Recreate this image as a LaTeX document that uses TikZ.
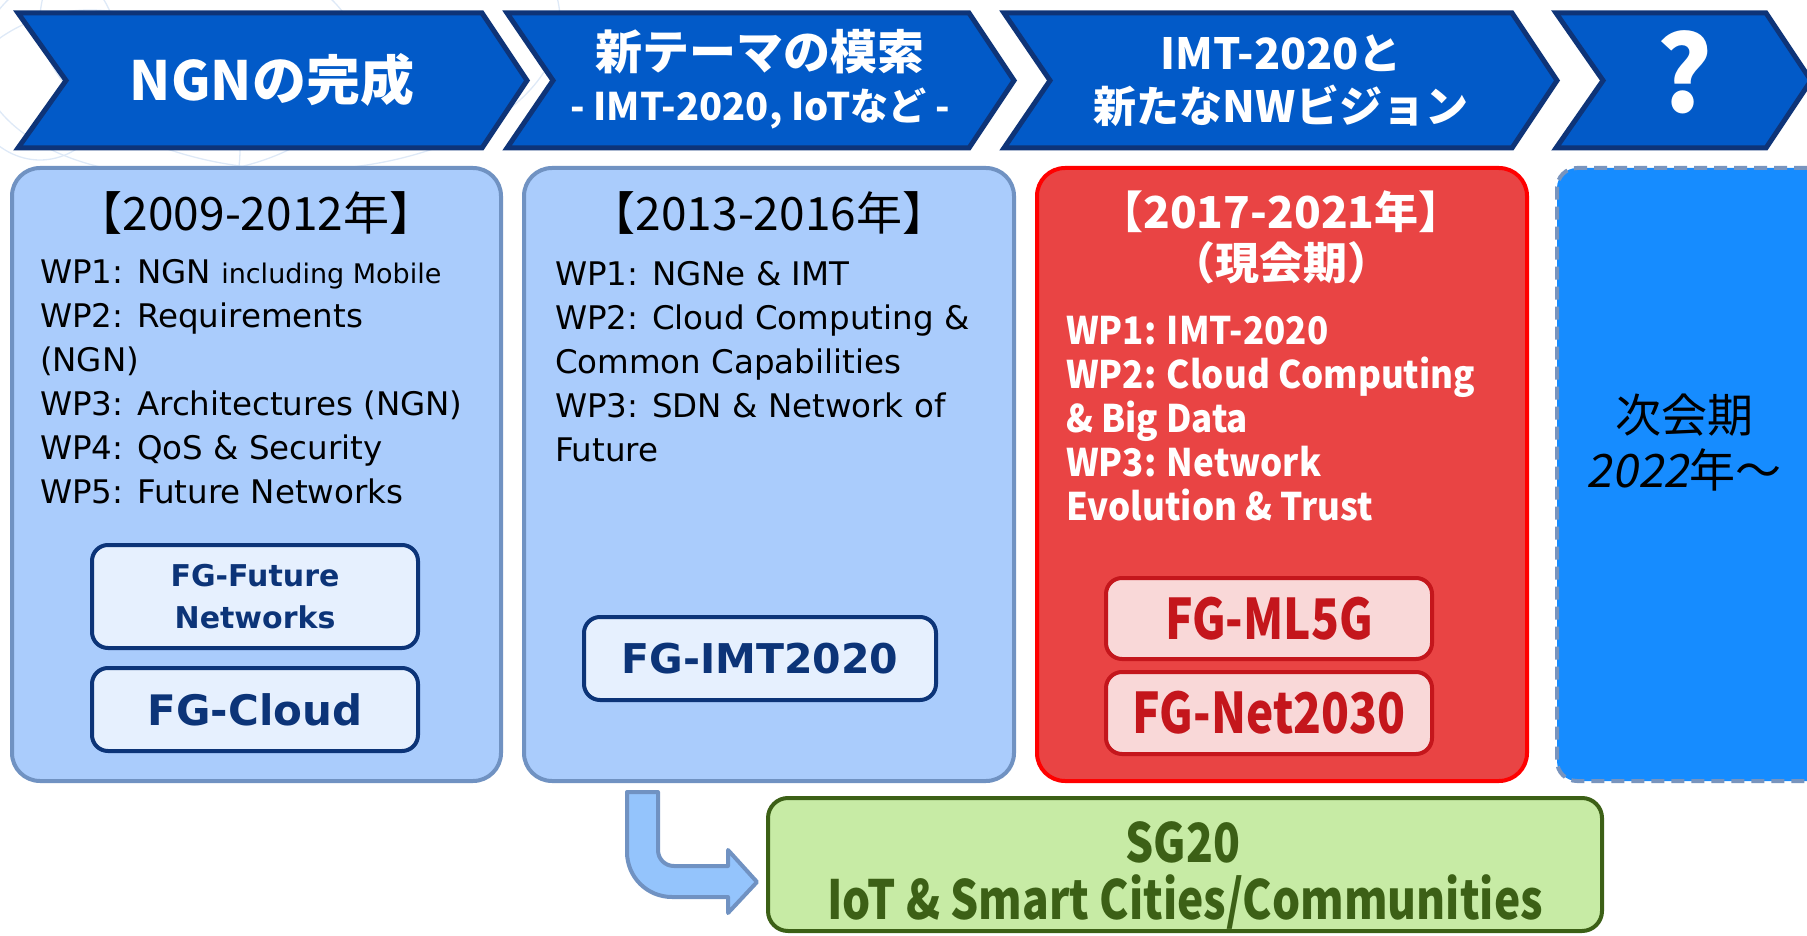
\documentclass[tikz,border=0pt]{standalone}
\usepackage{fontspec}
\setmainfont{DejaVu Sans}
\newfontfamily\jp{Noto Sans CJK JP}
\newfontfamily\jpc[FakeStretch=0.92]{Noto Sans CJK JP}
\newfontfamily\jpcc[FakeStretch=0.82]{Noto Sans CJK JP}
\newfontfamily\jpsl[FakeSlant=0.18]{Noto Sans CJK JP}
\newfontfamily\dv{DejaVu Sans}
\newcommand\fsz[1]{\fontsize{#1}{#1}\selectfont}
\definecolor{chevfill}{RGB}{2,90,200}
\definecolor{chevline}{RGB}{14,52,120}
\definecolor{perfill}{RGB}{170,204,252}
\definecolor{perline}{RGB}{112,146,194}
\definecolor{fgfill}{RGB}{230,240,254}
\definecolor{fgline}{RGB}{12,52,120}
\definecolor{redfill}{RGB}{233,68,68}
\definecolor{redline}{RGB}{255,0,0}
\definecolor{pinkfill}{RGB}{249,216,216}
\definecolor{pinkline}{RGB}{196,22,28}
\definecolor{nextfill}{RGB}{22,140,255}
\definecolor{nextline}{RGB}{120,148,190}
\definecolor{sgfill}{RGB}{199,235,165}
\definecolor{sgline}{RGB}{60,96,22}
\definecolor{arrowfill}{RGB}{148,196,252}
\definecolor{bgarc}{RGB}{222,233,247}
\begin{document}
\begin{tikzpicture}[x=1pt,y=-1pt,
  every node/.style={inner sep=0pt, outer sep=0pt},
  chev/.style={fill=chevfill, draw=chevline, line width=5pt, line join=miter},
  chevtext/.style={anchor=base, text=white, font=\jp\bfseries\fsz{#1}},
  period/.style={rectangle, rounded corners=28pt, line width=4pt, fill=perfill, draw=perline},
  yearlbl/.style={anchor=base, font=\jp\fsz{46}},
  wpline/.style={anchor=base west, font=\dv\fsz{32.5}},
  wpred/.style={anchor=base west, text=white, font=\jpc\bfseries\fsz{38}},
  fgblue/.style={rectangle, rounded corners=16pt, line width=4pt, fill=fgfill, draw=fgline, text=fgline, align=center},
  fgred/.style={rectangle, rounded corners=16pt, line width=4pt, fill=pinkfill, draw=pinkline, text=pinkline, font=\jpcc\bfseries\fsz{56}},
  sgtext/.style={anchor=base, text=sgline, font=\jpcc\bfseries\fsz{54}},
  bgline/.style={draw=bgarc, line width=1.3pt}
]
\useasboundingbox (0,0) rectangle (1807,936);

% faint background arcs
\begin{scope}
  \clip (0,0) rectangle (620,190);
  \draw[bgline] (170,60) ellipse[x radius=190, y radius=115];
  \draw[bgline] (90,150) ellipse[x radius=150, y radius=140];
  \draw[bgline] (300,20) ellipse[x radius=260, y radius=150];
  \draw[bgline] (40,60) ellipse[x radius=80, y radius=100];
\end{scope}

% chevrons
\draw[chev] (18,13) -- (482,13) -- (527,80.5) -- (482,148) -- (18,148) -- (66,80.5) -- cycle;
\draw[chev] (507,13) -- (969,13) -- (1014,80.5) -- (969,148) -- (507,148) -- (553,80.5) -- cycle;
\draw[chev] (1004,13) -- (1512,13) -- (1557,80.5) -- (1512,148) -- (1004,148) -- (1050,80.5) -- cycle;
\draw[chev] (1556,13) -- (1766,13) -- (1811,80.5) -- (1766,148) -- (1556,148) -- (1603,80.5) -- cycle;

\node[chevtext=54] (c1) at (272,101) {NGNの完成};
\node[chevtext=47] (c2a) at (760,70) {新テーマの模索};
\node[chevtext=38] (c2b) at (760,121) {- IMT-2020, IoTなど -};
\node[chevtext=43] (c3a) at (1281,70) {IMT-2020と};
\node[chevtext=43] (c3b) at (1281,123) {新たなNWビジョン};
\node[chevtext=105] (c4) at (1685,113) {?};

% period boxes
\node[period, minimum width=489pt, minimum height=613pt] (p1) at (256.5,474.5) {};
\node[period, minimum width=490pt, minimum height=613pt] (p2) at (769,474.5) {};
\node[rectangle, rounded corners=28pt, line width=4pt, fill=redfill, draw=redline,
      minimum width=490pt, minimum height=613pt] (p3) at (1282,474.5) {};
\node[rectangle, rounded corners=20pt, line width=4pt, fill=nextfill, draw=nextline,
      dash pattern=on 13pt off 7pt, minimum width=290pt, minimum height=613pt] (p4) at (1702,474.5) {};

% box 1 text
\node[yearlbl] (y1) at (256,230) {【2009-2012年】};
\node[wpline] (a1) at (40,283) {WP1: NGN {\fsz{27}including Mobile}};
\node[wpline] (a2) at (40,327) {WP2: Requirements};
\node[wpline] (a3) at (40,371) {(NGN)};
\node[wpline] (a4) at (40,415) {WP3: Architectures (NGN)};
\node[wpline] (a5) at (40,459) {WP4: QoS \& Security};
\node[wpline] (a6) at (40,503) {WP5: Future Networks};
\node[fgblue, minimum width=326pt, minimum height=103pt, font=\dv\bfseries\fsz{30}] (fgf) at (255,596.5)
  {FG-Future\\[12pt]Networks};
\node[fgblue, minimum width=326pt, minimum height=83pt, font=\dv\bfseries\fsz{42}] (fgc) at (255,709.5) {FG-Cloud};

% box 2 text
\node[yearlbl] (y2) at (769,230) {【2013-2016年】};
\node[wpline] (b1) at (555,285) {WP1: NGNe \& IMT};
\node[wpline] (b2) at (555,329) {WP2: Cloud Computing \&};
\node[wpline] (b3) at (555,373) {Common Capabilities};
\node[wpline] (b4) at (555,417) {WP3: SDN \& Network of};
\node[wpline] (b5) at (555,461) {Future};
\node[fgblue, minimum width=352pt, minimum height=83pt, font=\dv\bfseries\fsz{41}] (fgi) at (760,658.5) {FG-IMT2020};

% box 3 text
\node[anchor=base, text=white, font=\jp\bfseries\fsz{44}] (y3) at (1281,229) {【2017-2021年】};
\node[anchor=base, text=white, font=\jp\bfseries\fsz{44}] (y3b) at (1281,279) {（現会期）};
\node[wpred] (r1) at (1066,344) {WP1: IMT-2020};
\node[wpred] (r2) at (1066,388) {WP2: Cloud Computing};
\node[wpred] (r3) at (1066,432) {\& Big Data};
\node[wpred] (r4) at (1066,476) {WP3: Network};
\node[wpred] (r5) at (1066,520) {Evolution \& Trust};
\node[fgred, minimum width=326pt, minimum height=81pt] (fgm) at (1269,618.5) {FG-ML5G};
\node[fgred, minimum width=326pt, minimum height=82pt] (fgn) at (1269,713) {FG-Net2030};

% box 4 text
\node[anchor=base, font=\jp\fsz{46}] (n1) at (1684,432) {次会期};
\node[anchor=base, font=\jp\fsz{46}] (n2) at (1684,487) {{\jpsl 2022}年～};

% SG20 box
\node[rectangle, rounded corners=20pt, line width=4pt, fill=sgfill, draw=sgline,
      minimum width=834pt, minimum height=133pt] (sg) at (1185,864.5) {};
\node[sgtext] (sgA) at (1183,862) {SG20};
\node[sgtext] (sgB) at (1185,919) {IoT \& Smart Cities/Communities};

% bent block arrow from box 2 towards SG20
\draw[fill=arrowfill, draw=perline, line width=4pt, line join=round]
  (627,792) -- (658,792) -- (658,850)
  .. controls (658,859) and (665,866) .. (674,866)
  -- (728,866) -- (728,850) -- (757,882) -- (728,913) -- (728,897) -- (672,897)
  .. controls (647,897) and (627,877) .. (627,852) -- cycle;
\end{tikzpicture}
\end{document}
